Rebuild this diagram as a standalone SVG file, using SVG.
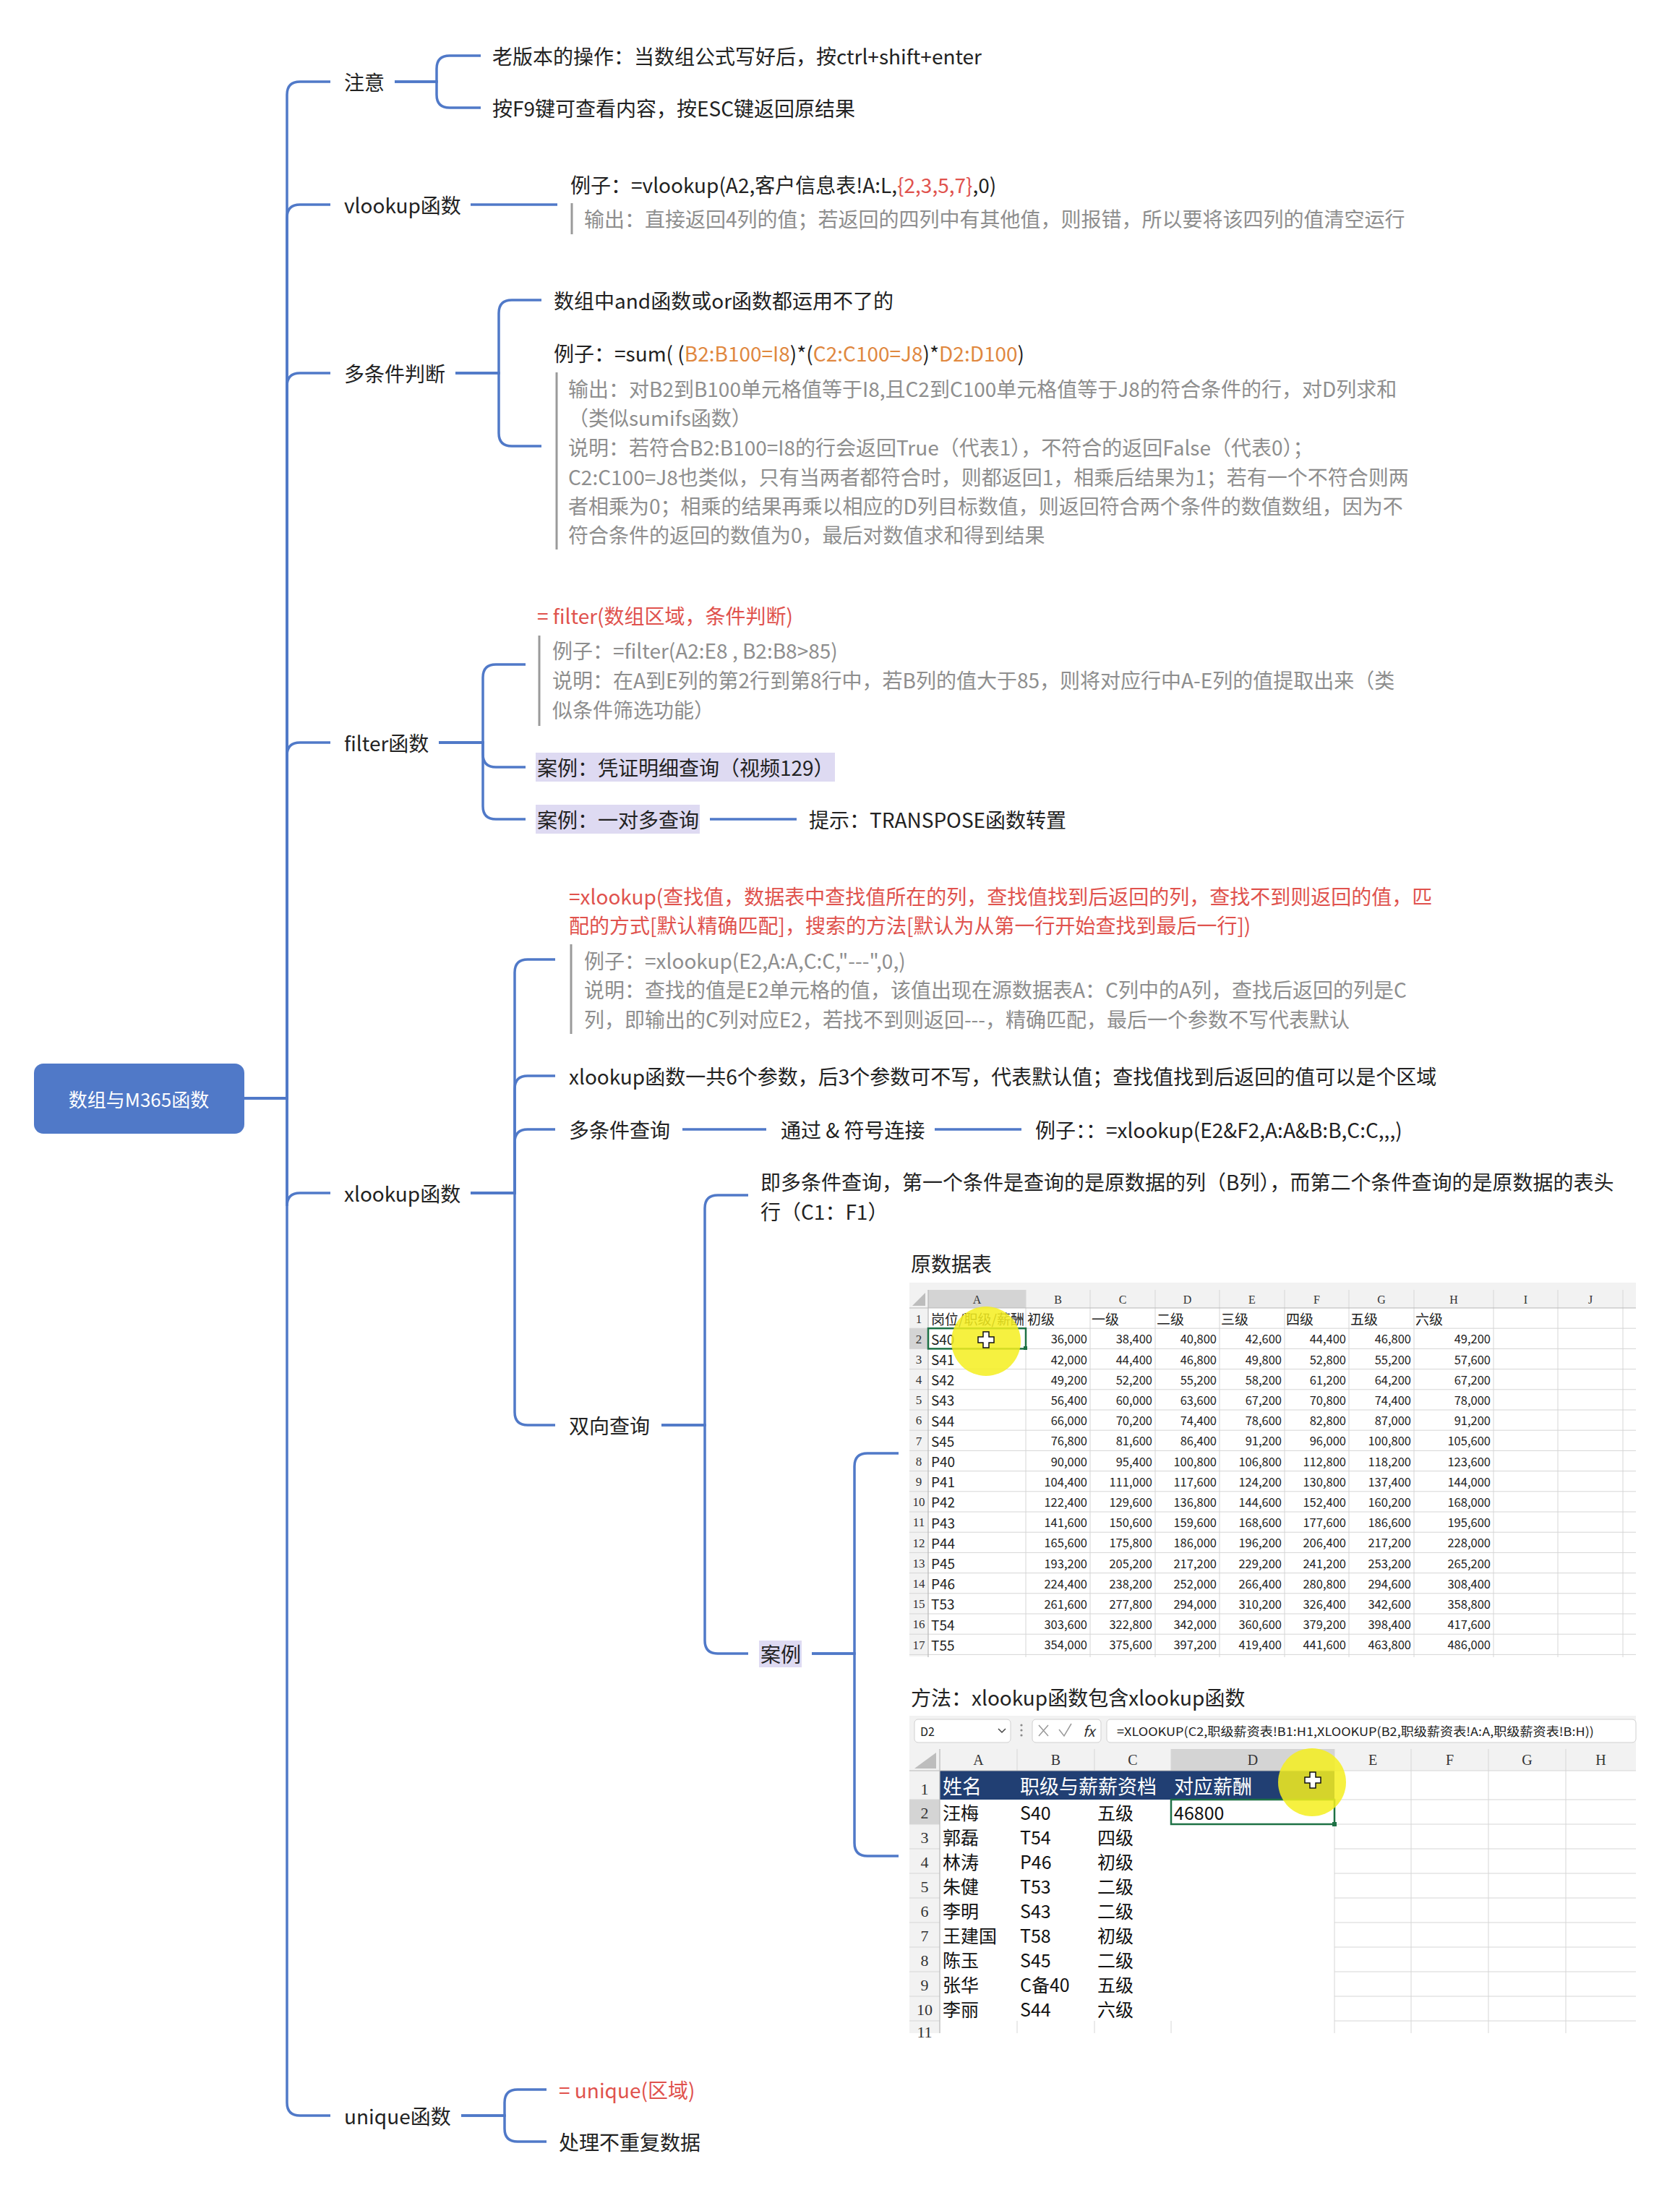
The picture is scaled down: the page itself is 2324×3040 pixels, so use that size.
<svg xmlns="http://www.w3.org/2000/svg" width="2324" height="3040" viewBox="0 0 2324 3040">
<defs>
<style>
text{font-family:"Noto Sans CJK SC","Noto Sans",sans-serif;dominant-baseline:central}
.t{font-size:28px;fill:#222}
.n{font-size:28px;fill:#8e8e8e}
.red{fill:#E0524D}
.org{fill:#E0883F}
.ln{fill:none;stroke:#5079C8;stroke-width:3.5}
.bar{stroke:#9a9a9a;stroke-width:3}
.hl{fill:#DEDAF2}
.rt{font-size:26px;fill:#fff;text-anchor:middle}
.ca{font-size:19px;fill:#222}
.cn{font-size:16.5px;fill:#222;text-anchor:end}
.rn{font-family:"Liberation Serif",serif;font-size:17px;fill:#333;text-anchor:middle}
.cl{font-family:"Liberation Serif",serif;font-size:16px;fill:#333;text-anchor:middle}
.rn2{font-family:"Liberation Serif",serif;font-size:22px;fill:#333;text-anchor:middle}
.cl2{font-family:"Liberation Serif",serif;font-size:20px;fill:#333;text-anchor:middle}
.d2{font-size:25px;fill:#111}
.h2{font-size:27px;fill:#fff}
.grid{stroke:#d6d6d6;stroke-width:1;fill:none}
.sel{fill:none;stroke:#1E7145;stroke-width:2.5}
.blob{fill:#F5EF1E;opacity:0.85}
.cur{fill:#fff;stroke:#111;stroke-width:1.5}
</style>
<clipPath id="clipA1"><rect x="1284" y="-14.1" width="135" height="28.2"/></clipPath>
<polygon id="plus" points="-4,-11 4,-11 4,-4 11,-4 11,4 4,4 4,11 -4,11 -4,4 -11,4 -11,-4 -4,-4"/>
</defs>
<rect width="2324" height="3040" fill="#fff"/>

<g id="connectors">
<path class="ln" d="M338,1519 H397 V131 Q397,113 415,113 H457"/>
<path class="ln" d="M338,1519 H397 V301 Q397,283 415,283 H457"/>
<path class="ln" d="M338,1519 H397 V534 Q397,516 415,516 H457"/>
<path class="ln" d="M338,1519 H397 V1045 Q397,1027 415,1027 H457"/>
<path class="ln" d="M338,1519 H397 V1668 Q397,1650 415,1650 H457"/>
<path class="ln" d="M338,1519 H397 V2908 Q397,2926 415,2926 H457"/>
<path class="ln" d="M546,113 H604 V95 Q604,77 622,77 H665"/>
<path class="ln" d="M546,113 H604 V131 Q604,149 622,149 H665"/>
<path class="ln" d="M651,283 H771"/>
<path class="ln" d="M630,516 H690 V433 Q690,415 708,415 H749"/>
<path class="ln" d="M630,516 H690 V599 Q690,617 708,617 H749"/>
<path class="ln" d="M607,1027 H668 V937 Q668,919 686,919 H727"/>
<path class="ln" d="M607,1027 H668 V1043 Q668,1061 686,1061 H727"/>
<path class="ln" d="M607,1027 H668 V1115 Q668,1133 686,1133 H727"/>
<path class="ln" d="M982,1133 H1102"/>
<path class="ln" d="M651,1650 H712 V1345 Q712,1327 730,1327 H768"/>
<path class="ln" d="M651,1650 H712 V1506 Q712,1488 730,1488 H768"/>
<path class="ln" d="M651,1650 H712 V1580 Q712,1562 730,1562 H768"/>
<path class="ln" d="M651,1650 H712 V1953 Q712,1971 730,1971 H768"/>
<path class="ln" d="M944,1562 H1060"/>
<path class="ln" d="M1293,1562 H1413"/>
<path class="ln" d="M915,1971 H975 V1671 Q975,1653 993,1653 H1035"/>
<path class="ln" d="M915,1971 H975 V2269 Q975,2287 993,2287 H1035"/>
<path class="ln" d="M1123,2287 H1182 V2028 Q1182,2010 1200,2010 H1243"/>
<path class="ln" d="M1123,2287 H1182 V2549 Q1182,2567 1200,2567 H1243"/>
<path class="ln" d="M638,2926 H698 V2908 Q698,2890 716,2890 H756"/>
<path class="ln" d="M638,2926 H698 V2944 Q698,2962 716,2962 H756"/>
</g>

<g id="root">
<rect x="47" y="1471" width="291" height="97" rx="13" fill="#5079C8"/>
<text class="rt" x="192" y="1519">数组与M365函数</text>
</g>

<g id="n-zhuyi"><text class="t" x="476" y="113">注意</text></g>
<g id="n-zhuyi-1"><text class="t" x="681" y="77">老版本的操作：当数组公式写好后，按ctrl+shift+enter</text></g>
<g id="n-zhuyi-2"><text class="t" x="681" y="149">按F9键可查看内容，按ESC键返回原结果</text></g>

<g id="n-vlookup"><text class="t" x="476" y="283">vlookup函数</text></g>
<g id="n-vlookup-1">
<text class="t" x="789" y="255">例子：=vlookup(A2,客户信息表!A:L,<tspan class="red">{2,3,5,7}</tspan>,0)</text>
<line class="bar" x1="791" y1="281" x2="791" y2="324"/>
<text class="n" x="808" y="302">输出：直接返回4列的值；若返回的四列中有其他值，则报错，所以要将该四列的值清空运行</text>
</g>

<g id="n-duotiaojian"><text class="t" x="476" y="516">多条件判断</text></g>
<g id="n-duotiaojian-1"><text class="t" x="766" y="415">数组中and函数或or函数都运用不了的</text></g>
<g id="n-duotiaojian-2">
<text class="t" x="766" y="488">例子：=sum( (<tspan class="org">B2:B100=I8</tspan>)*(<tspan class="org">C2:C100=J8</tspan>)*<tspan class="org">D2:D100</tspan>)</text>
<line class="bar" x1="770" y1="515" x2="770" y2="760"/>
<text class="n" x="786" y="537">输出：对B2到B100单元格值等于I8,且C2到C100单元格值等于J8的符合条件的行，对D列求和</text>
<text class="n" x="786" y="577">（类似sumifs函数）</text>
<text class="n" x="786" y="618">说明：若符合B2:B100=I8的行会返回True（代表1），不符合的返回False（代表0）；</text>
<text class="n" x="786" y="659">C2:C100=J8也类似，只有当两者都符合时，则都返回1，相乘后结果为1；若有一个不符合则两</text>
<text class="n" x="786" y="699">者相乘为0；相乘的结果再乘以相应的D列目标数值，则返回符合两个条件的数值数组，因为不</text>
<text class="n" x="786" y="739">符合条件的返回的数值为0，最后对数值求和得到结果</text>
</g>

<g id="n-filter"><text class="t" x="476" y="1027">filter函数</text></g>
<g id="n-filter-1">
<text class="t red" x="743" y="851">= filter(数组区域，条件判断)</text>
<line class="bar" x1="746" y1="879" x2="746" y2="1004"/>
<text class="n" x="764" y="899">例子：=filter(A2:E8 , B2:B8&gt;85)</text>
<text class="n" x="764" y="940">说明：在A到E列的第2行到第8行中，若B列的值大于85，则将对应行中A-E列的值提取出来（类</text>
<text class="n" x="764" y="981">似条件筛选功能）</text>
</g>
<g id="n-filter-2">
<rect class="hl" x="741" y="1041" width="414" height="40"/>
<text class="t" x="743" y="1061">案例：凭证明细查询（视频129）</text>
</g>
<g id="n-filter-3">
<rect class="hl" x="741" y="1113" width="227" height="40"/>
<text class="t" x="743" y="1133">案例：一对多查询</text>
</g>
<g id="n-filter-3-1"><text class="t" x="1119" y="1133">提示：TRANSPOSE函数转置</text></g>

<g id="n-xlookup"><text class="t" x="476" y="1650">xlookup函数</text></g>
<g id="n-xlookup-1">
<text class="t red" x="787" y="1239">=xlookup(查找值，数据表中查找值所在的列，查找值找到后返回的列，查找不到则返回的值，匹</text>
<text class="t red" x="787" y="1279">配的方式[默认精确匹配]，搜索的方法[默认为从第一行开始查找到最后一行])</text>
<line class="bar" x1="790" y1="1306" x2="790" y2="1430"/>
<text class="n" x="808" y="1328">例子：=xlookup(E2,A:A,C:C,"---",0,)</text>
<text class="n" x="808" y="1368">说明：查找的值是E2单元格的值，该值出现在源数据表A：C列中的A列，查找后返回的列是C</text>
<text class="n" x="808" y="1409">列，即输出的C列对应E2，若找不到则返回---，精确匹配，最后一个参数不写代表默认</text>
</g>
<g id="n-xlookup-2"><text class="t" x="787" y="1488">xlookup函数一共6个参数，后3个参数可不写，代表默认值；查找值找到后返回的值可以是个区域</text></g>
<g id="n-xlookup-3"><text class="t" x="787" y="1562">多条件查询</text></g>
<g id="n-xlookup-3-1"><text class="t" x="1080" y="1562">通过 &amp; 符号连接</text></g>
<g id="n-xlookup-3-2"><text class="t" x="1432" y="1562">例子：：=xlookup(E2&amp;F2,A:A&amp;B:B,C:C,,,)</text></g>
<g id="n-xlookup-4"><text class="t" x="787" y="1971">双向查询</text></g>
<g id="n-xlookup-4-1">
<text class="t" x="1052" y="1634">即多条件查询，第一个条件是查询的是原数据的列（B列），而第二个条件查询的是原数据的表头</text>
<text class="t" x="1052" y="1675">行（C1：F1）</text>
</g>
<g id="n-xlookup-4-2">
<rect class="hl" x="1050" y="2269" width="59" height="37"/>
<text class="t" x="1052" y="2287">案例</text>
</g>

<g id="n-sheet1">
<text class="t" x="1260" y="1747">原数据表</text>
<rect x="1258" y="1774" width="1005" height="35" fill="#f2f2f2"/>
<rect x="1258" y="1809" width="26" height="482" fill="#f2f2f2"/>
<rect x="1284" y="1784" width="135" height="25" fill="#d4d4d4"/>
<rect x="1258" y="1837.2" width="26" height="28.2" fill="#d4d4d4"/>
<polygon points="1280,1788 1280,1806 1262,1806" fill="#bdbdbd"/>
<g class="grid">
<path d="M1419,1784V1809 M1508,1784V1809 M1598,1784V1809 M1687,1784V1809 M1777,1784V1809 M1866,1784V1809 M1956,1784V1809 M2066,1784V1809 M2155,1784V1809 M2245,1784V1809"/>
<path d="M1419,1809V2292 M1508,1809V2292 M1598,1809V2292 M1687,1809V2292 M1777,1809V2292 M1866,1809V2292 M1956,1809V2292 M2066,1809V2292 M2155,1809V2292 M2245,1809V2292"/>
<path d="M1258,1837.2H2263 M1258,1865.4H2263 M1258,1893.6H2263 M1258,1921.8H2263 M1258,1950H2263 M1258,1978.2H2263 M1258,2006.4H2263 M1258,2034.6H2263 M1258,2062.8H2263 M1258,2091H2263 M1258,2119.2H2263 M1258,2147.4H2263 M1258,2175.6H2263 M1258,2203.8H2263 M1258,2232H2263 M1258,2260.2H2263 M1258,2288.4H2263"/>
</g>
<path d="M1258,1809H2263 M1284,1784V2292" stroke="#b8b8b8" stroke-width="1.2" fill="none"/>
<g>
<text class="cl" x="1351.5" y="1797">A</text><text class="cl" x="1463.5" y="1797">B</text><text class="cl" x="1553" y="1797">C</text><text class="cl" x="1642.5" y="1797">D</text><text class="cl" x="1732" y="1797">E</text><text class="cl" x="1821.5" y="1797">F</text><text class="cl" x="1911" y="1797">G</text><text class="cl" x="2011" y="1797">H</text><text class="cl" x="2110.5" y="1797">I</text><text class="cl" x="2200" y="1797">J</text>
</g>
<g>
<text class="rn" x="1271" y="1824">1</text><text class="rn" x="1271" y="1852">2</text><text class="rn" x="1271" y="1880">3</text><text class="rn" x="1271" y="1908">4</text><text class="rn" x="1271" y="1936">5</text><text class="rn" x="1271" y="1964">6</text><text class="rn" x="1271" y="1993">7</text><text class="rn" x="1271" y="2021">8</text><text class="rn" x="1271" y="2049">9</text><text class="rn" x="1271" y="2077">10</text><text class="rn" x="1271" y="2105">11</text><text class="rn" x="1271" y="2134">12</text><text class="rn" x="1271" y="2162">13</text><text class="rn" x="1271" y="2190">14</text><text class="rn" x="1271" y="2218">15</text><text class="rn" x="1271" y="2246">16</text><text class="rn" x="1271" y="2275">17</text>
</g>
<g transform="translate(0,1823.1)">
<text class="ca" x="1288" y="0" clip-path="url(#clipA1)">岗位/职级/薪酬</text>
<text class="ca" x="1421" y="0">初级</text><text class="ca" x="1510" y="0">一级</text><text class="ca" x="1600" y="0">二级</text><text class="ca" x="1689" y="0">三级</text><text class="ca" x="1779" y="0">四级</text><text class="ca" x="1868" y="0">五级</text><text class="ca" x="1958" y="0">六级</text>
</g>
<g transform="translate(0,1851.3)"><text class="ca" x="1288">S40</text><text class="cn" x="1504">36,000</text><text class="cn" x="1594">38,400</text><text class="cn" x="1683">40,800</text><text class="cn" x="1773">42,600</text><text class="cn" x="1862">44,400</text><text class="cn" x="1952">46,800</text><text class="cn" x="2062">49,200</text></g>
<g transform="translate(0,1879.5)"><text class="ca" x="1288">S41</text><text class="cn" x="1504">42,000</text><text class="cn" x="1594">44,400</text><text class="cn" x="1683">46,800</text><text class="cn" x="1773">49,800</text><text class="cn" x="1862">52,800</text><text class="cn" x="1952">55,200</text><text class="cn" x="2062">57,600</text></g>
<g transform="translate(0,1907.7)"><text class="ca" x="1288">S42</text><text class="cn" x="1504">49,200</text><text class="cn" x="1594">52,200</text><text class="cn" x="1683">55,200</text><text class="cn" x="1773">58,200</text><text class="cn" x="1862">61,200</text><text class="cn" x="1952">64,200</text><text class="cn" x="2062">67,200</text></g>
<g transform="translate(0,1935.9)"><text class="ca" x="1288">S43</text><text class="cn" x="1504">56,400</text><text class="cn" x="1594">60,000</text><text class="cn" x="1683">63,600</text><text class="cn" x="1773">67,200</text><text class="cn" x="1862">70,800</text><text class="cn" x="1952">74,400</text><text class="cn" x="2062">78,000</text></g>
<g transform="translate(0,1964.1)"><text class="ca" x="1288">S44</text><text class="cn" x="1504">66,000</text><text class="cn" x="1594">70,200</text><text class="cn" x="1683">74,400</text><text class="cn" x="1773">78,600</text><text class="cn" x="1862">82,800</text><text class="cn" x="1952">87,000</text><text class="cn" x="2062">91,200</text></g>
<g transform="translate(0,1992.3)"><text class="ca" x="1288">S45</text><text class="cn" x="1504">76,800</text><text class="cn" x="1594">81,600</text><text class="cn" x="1683">86,400</text><text class="cn" x="1773">91,200</text><text class="cn" x="1862">96,000</text><text class="cn" x="1952">100,800</text><text class="cn" x="2062">105,600</text></g>
<g transform="translate(0,2020.5)"><text class="ca" x="1288">P40</text><text class="cn" x="1504">90,000</text><text class="cn" x="1594">95,400</text><text class="cn" x="1683">100,800</text><text class="cn" x="1773">106,800</text><text class="cn" x="1862">112,800</text><text class="cn" x="1952">118,200</text><text class="cn" x="2062">123,600</text></g>
<g transform="translate(0,2048.7)"><text class="ca" x="1288">P41</text><text class="cn" x="1504">104,400</text><text class="cn" x="1594">111,000</text><text class="cn" x="1683">117,600</text><text class="cn" x="1773">124,200</text><text class="cn" x="1862">130,800</text><text class="cn" x="1952">137,400</text><text class="cn" x="2062">144,000</text></g>
<g transform="translate(0,2076.9)"><text class="ca" x="1288">P42</text><text class="cn" x="1504">122,400</text><text class="cn" x="1594">129,600</text><text class="cn" x="1683">136,800</text><text class="cn" x="1773">144,600</text><text class="cn" x="1862">152,400</text><text class="cn" x="1952">160,200</text><text class="cn" x="2062">168,000</text></g>
<g transform="translate(0,2105.1)"><text class="ca" x="1288">P43</text><text class="cn" x="1504">141,600</text><text class="cn" x="1594">150,600</text><text class="cn" x="1683">159,600</text><text class="cn" x="1773">168,600</text><text class="cn" x="1862">177,600</text><text class="cn" x="1952">186,600</text><text class="cn" x="2062">195,600</text></g>
<g transform="translate(0,2133.3)"><text class="ca" x="1288">P44</text><text class="cn" x="1504">165,600</text><text class="cn" x="1594">175,800</text><text class="cn" x="1683">186,000</text><text class="cn" x="1773">196,200</text><text class="cn" x="1862">206,400</text><text class="cn" x="1952">217,200</text><text class="cn" x="2062">228,000</text></g>
<g transform="translate(0,2161.5)"><text class="ca" x="1288">P45</text><text class="cn" x="1504">193,200</text><text class="cn" x="1594">205,200</text><text class="cn" x="1683">217,200</text><text class="cn" x="1773">229,200</text><text class="cn" x="1862">241,200</text><text class="cn" x="1952">253,200</text><text class="cn" x="2062">265,200</text></g>
<g transform="translate(0,2189.7)"><text class="ca" x="1288">P46</text><text class="cn" x="1504">224,400</text><text class="cn" x="1594">238,200</text><text class="cn" x="1683">252,000</text><text class="cn" x="1773">266,400</text><text class="cn" x="1862">280,800</text><text class="cn" x="1952">294,600</text><text class="cn" x="2062">308,400</text></g>
<g transform="translate(0,2217.9)"><text class="ca" x="1288">T53</text><text class="cn" x="1504">261,600</text><text class="cn" x="1594">277,800</text><text class="cn" x="1683">294,000</text><text class="cn" x="1773">310,200</text><text class="cn" x="1862">326,400</text><text class="cn" x="1952">342,600</text><text class="cn" x="2062">358,800</text></g>
<g transform="translate(0,2246.1)"><text class="ca" x="1288">T54</text><text class="cn" x="1504">303,600</text><text class="cn" x="1594">322,800</text><text class="cn" x="1683">342,000</text><text class="cn" x="1773">360,600</text><text class="cn" x="1862">379,200</text><text class="cn" x="1952">398,400</text><text class="cn" x="2062">417,600</text></g>
<g transform="translate(0,2274.3)"><text class="ca" x="1288">T55</text><text class="cn" x="1504">354,000</text><text class="cn" x="1594">375,600</text><text class="cn" x="1683">397,200</text><text class="cn" x="1773">419,400</text><text class="cn" x="1862">441,600</text><text class="cn" x="1952">463,800</text><text class="cn" x="2062">486,000</text></g>
<rect class="sel" x="1284" y="1837.2" width="135" height="28.2"/>
<rect x="1416" y="1862" width="5" height="5" fill="#1E7145"/>
<circle class="blob" cx="1364" cy="1855" r="48"/>
<use href="#plus" class="cur" transform="translate(1364,1853)"/>
</g>

<g id="n-sheet2">
<text class="t" x="1260" y="2347">方法：xlookup函数包含xlookup函数</text>
<rect x="1258" y="2373" width="1005" height="76" fill="#f2f2f2"/>
<rect x="1265" y="2378" width="133" height="32" rx="5" fill="#fff" stroke="#d0d0d0"/>
<text x="1273" y="2394" font-size="16" fill="#222">D2</text>
<polyline points="1381,2391 1386,2396 1391,2391" fill="none" stroke="#444" stroke-width="1.5"/>
<circle cx="1413" cy="2386" r="1.6" fill="#888"/><circle cx="1413" cy="2393" r="1.6" fill="#888"/><circle cx="1413" cy="2400" r="1.6" fill="#888"/>
<rect x="1428" y="2378" width="95" height="32" rx="5" fill="#fff" stroke="#d0d0d0"/>
<path d="M1437,2386 L1450,2401 M1450,2386 L1437,2401" stroke="#9a9a9a" stroke-width="1.5" fill="none"/>
<polyline points="1465,2392 1472,2401 1482,2384" fill="none" stroke="#9a9a9a" stroke-width="1.5"/>
<text x="1498" y="2393" font-family="Liberation Serif,serif" font-style="italic" font-size="20" fill="#333">fx</text>
<rect x="1531" y="2378" width="732" height="32" rx="5" fill="#fff" stroke="#d0d0d0"/>
<text x="1545" y="2394" font-size="16.5" fill="#222" textLength="660" lengthAdjust="spacingAndGlyphs">=XLOOKUP(C2,职级薪资表!B1:H1,XLOOKUP(B2,职级薪资表!A:A,职级薪资表!B:H))</text>
<rect x="1258" y="2419" width="1005" height="30" fill="#f2f2f2"/>
<rect x="1620" y="2419" width="226" height="30" fill="#d4d4d4"/>
<rect x="1258" y="2449" width="42" height="363" fill="#f2f2f2"/>
<rect x="1258" y="2489" width="42" height="34" fill="#d4d4d4"/>
<polygon points="1295,2424 1295,2446 1265,2446" fill="#bdbdbd"/>
<rect x="1300" y="2449" width="546" height="40" fill="#213F73"/>
<g class="grid">
<path d="M1407,2419V2449 M1514,2419V2449 M1620,2419V2449 M1846,2419V2449 M1952,2419V2449 M2059,2419V2449 M2166,2419V2449"/>
<path d="M1846,2449H2263 M1846,2489H2263 M1846,2523H2263 M1846,2557H2263 M1846,2591H2263 M1846,2625H2263 M1846,2659H2263 M1846,2693H2263 M1846,2727H2263 M1846,2761H2263 M1846,2795H2263"/>
<path d="M1258,2489H1300 M1258,2523H1300 M1258,2557H1300 M1258,2591H1300 M1258,2625H1300 M1258,2659H1300 M1258,2693H1300 M1258,2727H1300 M1258,2761H1300 M1258,2795H1300"/>
<path d="M1952,2449V2812 M2059,2449V2812 M2166,2449V2812 M1846,2523V2812 M1407,2795V2812 M1514,2795V2812 M1620,2795V2812"/>
</g>
<path d="M1258,2449H1846 M1300,2419V2812" stroke="#b8b8b8" stroke-width="1.2" fill="none"/>
<g>
<text class="cl2" x="1353.5" y="2434">A</text><text class="cl2" x="1460.5" y="2434">B</text><text class="cl2" x="1567" y="2434">C</text><text class="cl2" x="1733" y="2434">D</text><text class="cl2" x="1899" y="2434">E</text><text class="cl2" x="2005.5" y="2434">F</text><text class="cl2" x="2112.5" y="2434">G</text><text class="cl2" x="2214.5" y="2434">H</text>
</g>
<g>
<text class="rn2" x="1279" y="2474">1</text><text class="rn2" x="1279" y="2507">2</text><text class="rn2" x="1279" y="2541">3</text><text class="rn2" x="1279" y="2575">4</text><text class="rn2" x="1279" y="2609">5</text><text class="rn2" x="1279" y="2643">6</text><text class="rn2" x="1279" y="2677">7</text><text class="rn2" x="1279" y="2711">8</text><text class="rn2" x="1279" y="2745">9</text><text class="rn2" x="1279" y="2779">10</text><text class="rn2" x="1279" y="2810">11</text>
</g>
<g transform="translate(0,2469)"><text class="h2" x="1304">姓名</text><text class="h2" x="1411">职级与薪薪资档</text><text class="h2" x="1624">对应薪酬</text></g>
<g transform="translate(0,2506)"><text class="d2" x="1304">汪梅</text><text class="d2" x="1411">S40</text><text class="d2" x="1518">五级</text><text class="d2" x="1624">46800</text></g>
<g transform="translate(0,2540)"><text class="d2" x="1304">郭磊</text><text class="d2" x="1411">T54</text><text class="d2" x="1518">四级</text></g>
<g transform="translate(0,2574)"><text class="d2" x="1304">林涛</text><text class="d2" x="1411">P46</text><text class="d2" x="1518">初级</text></g>
<g transform="translate(0,2608)"><text class="d2" x="1304">朱健</text><text class="d2" x="1411">T53</text><text class="d2" x="1518">二级</text></g>
<g transform="translate(0,2642)"><text class="d2" x="1304">李明</text><text class="d2" x="1411">S43</text><text class="d2" x="1518">二级</text></g>
<g transform="translate(0,2676)"><text class="d2" x="1304">王建国</text><text class="d2" x="1411">T58</text><text class="d2" x="1518">初级</text></g>
<g transform="translate(0,2710)"><text class="d2" x="1304">陈玉</text><text class="d2" x="1411">S45</text><text class="d2" x="1518">二级</text></g>
<g transform="translate(0,2744)"><text class="d2" x="1304">张华</text><text class="d2" x="1411">C备40</text><text class="d2" x="1518">五级</text></g>
<g transform="translate(0,2778)"><text class="d2" x="1304">李丽</text><text class="d2" x="1411">S44</text><text class="d2" x="1518">六级</text></g>
<rect class="sel" x="1620" y="2489" width="226" height="34"/>
<rect x="1843" y="2520" width="6" height="6" fill="#1E7145"/>
<circle class="blob" cx="1815" cy="2465" r="47"/>
<use href="#plus" class="cur" transform="translate(1816,2462)"/>
</g>

<g id="n-unique"><text class="t" x="476" y="2926">unique函数</text></g>
<g id="n-unique-1"><text class="t red" x="773" y="2890">= unique(区域)</text></g>
<g id="n-unique-2"><text class="t" x="773" y="2962">处理不重复数据</text></g>
</svg>
